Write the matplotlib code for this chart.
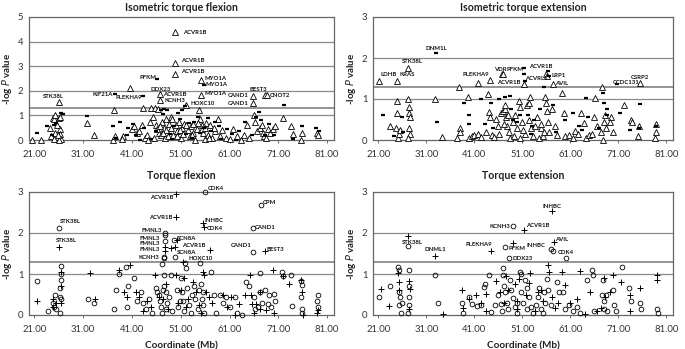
import matplotlib
matplotlib.use("Agg")
import matplotlib.pyplot as plt

plt.rcParams['font.family'] = ['Lato', 'DejaVu Sans']

# ---------------- data ----------------
x_ticks = [21, 31, 41, 51, 61, 71, 81]
x_tick_labels = ["21.00", "31.00", "41.00", "51.00", "61.00", "71.00", "81.00"]
threshold = 1.3

titles = ["Isometric torque flexion", "Isometric torque extension", "Torque flexion", "Torque extension"]

# Isometric torque flexion: triangles and dashes (Mb, -log P)
tl_tri = [(20.6,0.0),(22.4,0.0),(24.2,0.5),(24.5,0.15),(24.9,0.9),(25.0,0.85),(25.2,1.0),(25.1,0.05),(25.3,0.3),
          (26.1,1.56),(26.0,0.9),(26.2,0.95),(26.3,0.45),(26.2,0.25),(26.4,0.05),(26.0,0.0),(25.6,0.6),(25.8,0.2),
          (31.8,0.68),(33.2,0.2),(37.1,0.0),(37.3,1.2),(37.6,0.15),(39.2,0.15),(39.0,0.05),(40.5,2.13),(41.0,0.45),
          (41.5,0.55),(42.0,0.3),(42.5,0.35),(43.0,0.6),(43.2,1.32),(43.6,0.1),(44.0,0.2),(44.3,0.0),(44.6,0.75),
          (44.9,1.32),(45.4,0.95),(45.8,1.3),(46.0,0.6),(46.3,1.27),(46.7,1.86),(46.7,1.63),(46.5,0.3),(47.0,0.2),
          (47.2,0.75),(47.5,0.5),(47.8,0.1),(48.0,0.4),(48.5,0.65),(48.9,0.95),(49.2,0.85),(49.5,0.2),(49.9,4.39),
          (49.9,3.15),(49.9,2.69),(50.0,0.6),(50.3,0.35),(50.6,0.75),(51.0,0.1),(51.3,0.5),(51.7,0.65),(52.1,1.43),
          (52.4,0.4),(52.8,0.15),(53.0,0.55),(53.6,0.3),(54.0,0.0),(54.3,0.45),(54.8,1.2),(55.2,2.45),(55.2,1.83),
          (55.0,0.85),(55.4,0.6),(55.6,0.3),(55.9,0.05),(56.2,0.7),(56.5,0.2),(57.0,0.6),(57.4,0.1),(58.0,0.35),
          (58.6,0.85),(59.0,0.15),(59.5,0.4),(60.3,0.1),(61.0,0.05),(61.8,0.45),(62.5,0.15),(63.4,0.0),(64.0,0.2),
          (64.6,0.6),(65.0,0.1),(65.7,1.78),(65.7,1.49),(66.0,1.03),(66.3,0.75),(66.6,0.35),(67.2,0.5),(67.6,0.6),
          (68.0,0.15),(68.3,1.81),(68.7,1.81),(68.8,0.45),(69.3,0.3),(70.0,0.45),(70.4,0.55),(72.0,0.88),(73.6,0.55),
          (73.9,0.25),(75.8,0.3),(75.6,0.0),(79.0,0.3),(79.1,0.2),(45.5,0.1),(46.2,0.45),(46.8,0.55),(47.4,0.3),
          (48.3,0.15),(49.0,0.5),(50.2,0.15),(50.8,0.4),(51.5,0.25),(52.0,0.6),(53.3,0.2),(54.6,0.7),(55.3,0.45),
          (56.0,0.5),(56.8,0.1),(57.8,0.5),(67.8,0.3),(68.5,0.1),(48.0,0.85),(53.5,0.65)]
tl_dash = [(21.5,0.3),(23.6,0.55),(24.7,0.2),(25.0,0.6),(25.5,0.7),(26.5,1.1),(26.8,1.05),(31.8,0.98),(37.2,0.55),
           (37.8,0.1),(38.5,0.75),(40.0,0.2),(40.2,0.5),(41.2,0.65),(41.8,0.2),(42.6,0.0),(37.5,1.86),(43.3,1.79),
           (46.2,2.47),(43.5,0.5),(45.0,0.05),(46.0,0.35),(46.9,1.2),(47.3,1.05),(47.6,1.27),(48.2,1.2),(48.7,0.25),
           (49.2,0.05),(49.6,0.55),(50.5,1.1),(51.3,1.2),(51.8,1.4),(50.8,0.85),(52.0,0.25),(52.6,0.7),(53.2,0.1),
           (53.8,0.75),(54.5,0.95),(55.0,0.3),(55.7,2.24),(55.8,0.5),(56.5,0.9),(57.2,0.35),(58.0,0.75),(58.8,0.55),
           (59.3,0.05),(60.5,0.45),(61.5,0.25),(62.3,0.0),(63.0,0.35),(64.2,0.75),(65.5,0.2),(66.5,0.95),(67.0,1.15),
           (67.5,0.8),(68.2,0.2),(69.0,0.65),(70.2,0.2),(72.1,1.43),(74.0,0.05),(75.9,0.55),(78.8,0.5),(79.3,0.35)]

# Isometric torque extension
tr_tri = [(21.2,1.44),(24.9,1.44),(27.1,1.75),(23.5,0.35),(24.8,0.95),(24.8,0.65),(24.6,0.3),(25.2,0.05),(25.4,0.15),
          (25.5,0.25),(27.1,1.0),(27.3,0.8),(27.5,0.65),(27.6,0.55),(27.4,0.3),(27.6,0.15),(27.2,0.05),(32.8,1.0),
          (34.3,0.07),(37.9,1.29),(37.5,0.05),(38.0,0.3),(38.1,0.2),(39.6,1.04),(39.8,0.05),(40.5,0.1),(41.0,0.12),
          (41.7,1.39),(41.8,0.15),(42.5,0.08),(43.5,0.2),(43.8,1.12),(44.3,1.47),(44.0,0.68),(44.2,0.57),(44.6,0.12),
          (45.2,0.07),(45.6,0.52),(46.2,0.15),(46.5,0.65),(46.8,1.62),(47.0,1.62),(46.9,0.7),(47.3,0.75),(47.5,0.85),
          (47.7,0.55),(47.9,0.35),(48.2,0.2),(48.5,0.05),(49.0,0.45),(49.3,0.1),(49.8,0.3),(50.3,0.95),(50.5,0.8),
          (50.6,0.05),(51.3,1.37),(51.0,0.45),(51.5,0.15),(52.0,0.85),(52.3,0.9),(52.6,1.05),(52.9,0.3),(53.3,0.1),
          (54.0,0.55),(54.5,0.05),(55.0,0.3),(55.3,0.1),(55.9,1.62),(56.2,1.55),(55.7,1.05),(55.9,0.9),(56.1,0.7),
          (56.4,0.45),(56.6,0.2),(57.4,1.37),(57.2,0.75),(57.8,0.35),(58.3,0.12),(59.3,1.15),(59.6,0.65),(60.0,0.1),
          (60.8,0.12),(61.5,0.05),(62.0,0.22),(62.6,0.15),(63.3,0.65),(63.8,0.42),(64.2,0.05),(64.8,0.12),(65.5,0.15),
          (66.2,1.03),(66.0,0.55),(66.5,0.35),(67.6,1.3),(67.8,0.0),(67.3,0.2),(68.0,0.45),(68.5,0.3),(69.5,0.55),
          (69.2,0.45),(70.0,0.2),(72.1,0.85),(73.6,0.5),(73.8,0.45),(75.2,0.1),(75.4,0.35),(75.6,1.39),(78.8,0.4),
          (78.9,0.2),(78.7,0.05),(47.2,0.4),(48.0,0.6),(51.2,0.25),(52.5,0.5),(54.8,0.4),(55.5,0.2),(68.2,0.6),
          (46.0,0.35),(49.5,0.6),(53.6,0.35)]
tr_dash = [(22.0,0.6),(24.3,0.1),(26.0,0.55),(26.2,0.2),(33.0,2.12),(33.2,0.45),(38.8,0.9),(39.9,0.6),(40.0,0.4),
           (42.5,1.0),(43.2,0.38),(44.5,0.9),(45.0,0.3),(46.2,1.0),(47.4,1.05),(48.4,1.08),(49.0,0.5),(50.6,0.6),
           (51.4,1.75),(51.4,1.62),(51.5,1.45),(52.2,0.6),(53.0,0.35),(53.5,0.5),(54.7,0.75),(55.6,1.3),(56.3,1.68),
           (56.6,1.55),(57.5,0.85),(58.0,0.2),(59.8,0.5),(61.5,0.65),(62.9,0.35),(63.5,0.25),(64.2,1.02),(64.6,0.55),
           (66.9,0.3),(67.9,1.15),(68.1,0.9),(68.6,0.75),(68.7,0.6),(70.8,1.36),(71.4,0.65),(73.5,0.25),(75.6,0.87),
           (75.4,0.3),(78.8,0.35),(48.6,0.75),(50.0,0.45),(52.8,0.15)]

# Torque flexion: circles and plus signs
bl_circ = [(21.6,0.83),(23.8,0.1),(24.9,0.3),(25.0,0.2),(25.3,0.5),(25.4,0.15),(26.0,2.13),(26.5,1.2),(26.4,1.0),
           (26.5,0.85),(26.3,0.65),(26.2,0.45),(26.5,0.4),(26.2,0.05),(32.0,0.4),(33.3,0.3),(37.4,0.15),(37.8,0.6),
           (38.3,1.0),(39.7,1.18),(40.1,0.7),(40.0,0.2),(41.5,0.9),(42.0,0.35),(42.8,0.55),(43.3,0.3),(43.8,0.15),
           (44.5,0.4),(45.2,0.05),(46.0,0.65),(46.2,0.55),(46.6,0.5),(46.8,0.35),(47.0,0.2),(47.2,0.05),(47.5,1.42),
           (47.6,1.38),(47.7,1.81),(47.8,2.0),(47.7,1.95),(47.2,1.25),(47.5,0.98),(47.6,0.7),(47.9,0.55),(48.2,0.3),
           (48.6,0.45),(49.0,0.98),(49.3,0.1),(49.6,1.83),(49.9,1.42),(50.2,0.6),(50.5,0.2),(51.0,0.9),(51.3,0.55),
           (51.5,0.35),(51.8,1.27),(52.0,1.15),(52.3,0.65),(52.7,0.25),(53.0,0.05),(53.7,0.7),(54.0,0.4),(54.5,0.15),
           (55.0,1.26),(55.2,0.75),(55.5,0.55),(55.6,0.25),(55.8,0.05),(56.0,3.0),(57.2,1.05),(57.8,0.5),(58.2,0.05),
           (59.0,0.5),(59.7,0.3),(60.3,0.45),(61.0,0.2),(62.2,0.45),(62.6,0.05),(63.5,0.0),(64.3,0.8),(65.0,0.7),
           (65.7,1.53),(65.7,2.12),(66.0,0.45),(66.2,0.15),(67.2,1.02),(67.3,0.55),(67.6,0.3),(68.2,0.62),(68.8,0.28),
           (69.0,0.5),(69.5,0.2),(70.2,0.52),(70.4,0.35),(71.8,1.05),(71.9,0.95),(73.5,0.98),(73.8,0.22),(75.7,0.82),
           (75.8,0.72),(75.7,0.45),(75.8,0.15),(75.9,0.05),(79.1,0.48),(79.0,0.35),(79.2,0.2),(67.5,2.69),
           (48.0,0.15),(50.8,0.35),(53.3,0.5),(55.3,0.4),(51.7,0.1),(54.8,0.6),(66.9,0.2),(47.3,0.6)]
bl_plus = [(21.5,0.35),(24.8,0.2),(24.9,0.4),(25.5,0.3),(26.0,1.65),(26.5,1.05),(26.4,0.7),(26.5,0.3),(32.3,1.02),
           (33.4,0.38),(38.3,1.1),(39.3,0.55),(40.0,0.45),(40.5,1.23),(41.8,0.55),(42.5,0.45),(43.3,0.1),(44.0,0.35),
           (44.8,0.2),(45.8,0.98),(46.5,0.45),(47.3,0.4),(47.8,1.65),(47.8,1.57),(48.0,0.75),(48.3,0.15),(48.9,1.63),
           (49.9,1.65),(50.0,2.95),(50.0,2.39),(50.3,1.82),(50.1,0.98),(50.4,0.3),(51.4,1.3),(51.0,0.6),(51.6,0.9),
           (52.0,0.2),(52.5,0.4),(53.6,0.8),(54.2,0.55),(54.8,0.25),(55.1,0.05),(55.5,2.24),(55.8,2.14),(55.5,1.05),
           (55.8,0.98),(56.2,0.55),(56.8,0.45),(57.0,1.59),(57.3,0.3),(59.6,0.48),(60.4,0.2),(61.3,0.43),(62.1,0.0),
           (63.0,0.28),(64.2,0.5),(65.2,0.98),(65.3,0.5),(65.5,0.28),(66.4,0.28),(66.0,0.05),(67.2,0.55),(67.3,0.15),
           (68.2,1.57),(68.5,0.12),(70.0,1.1),(70.2,0.05),(72.0,0.95),(73.2,0.75),(75.7,0.85),(75.8,0.55),(76.0,0.0),
           (79.2,0.12),(79.0,0.05)]

# Torque extension
br_circ = [(21.2,0.45),(23.4,0.7),(25.2,1.16),(25.3,1.1),(25.3,0.55),(25.5,0.45),(25.4,0.25),(25.8,0.05),(25.9,0.3),
           (27.1,1.69),(27.3,1.1),(27.5,0.7),(27.5,0.45),(27.4,0.25),(27.2,0.05),(32.9,0.97),(33.5,0.3),(38.5,0.3),
           (38.7,0.05),(40.0,0.45),(40.6,0.28),(41.6,0.22),(42.3,0.25),(43.0,0.68),(43.3,0.75),(44.0,0.98),(44.5,0.08),
           (45.4,0.25),(46.0,0.5),(46.5,0.27),(46.9,1.14),(47.0,0.98),(47.3,1.66),(47.2,0.7),(47.5,0.55),(47.8,0.3),
           (48.0,0.15),(48.3,1.39),(48.4,0.85),(48.6,0.6),(49.0,2.16),(49.1,0.42),(49.5,0.2),(50.0,0.05),(50.6,1.06),
           (50.7,1.0),(50.8,0.55),(51.2,0.3),(51.6,0.85),(52.0,0.65),(52.4,0.45),(52.8,0.2),(53.2,0.05),(54.2,0.45),
           (54.5,0.65),(55.0,0.15),(55.4,0.05),(55.8,0.3),(56.2,0.88),(56.3,0.6),(57.0,1.6),(57.3,1.55),(57.0,0.25),
           (58.3,0.8),(58.6,0.55),(59.5,0.55),(60.1,1.39),(59.8,0.15),(60.8,0.25),(61.6,0.1),(62.5,0.2),(63.0,0.05),
           (64.5,0.85),(65.5,1.1),(65.7,0.97),(66.0,0.1),(67.6,0.5),(67.9,0.85),(68.1,0.35),(68.4,0.5),(68.6,0.1),
           (70.0,0.6),(70.2,0.25),(70.5,0.1),(71.8,1.17),(73.3,0.65),(73.6,0.35),(75.5,0.3),(75.8,0.15),(79.0,0.15),
           (79.2,0.05),(46.8,0.1),(49.8,0.3),(51.9,0.15),(53.8,0.25),(55.6,0.55),(68.0,0.15)]
br_plus = [(21.6,0.63),(23.3,0.22),(25.3,0.8),(25.4,0.6),(25.2,1.02),(27.1,1.92),(27.3,0.83),(27.6,0.63),(27.3,0.15),
           (32.9,1.43),(34.4,0.03),(38.5,0.62),(38.7,0.18),(40.0,0.4),(41.3,0.48),(42.5,0.3),(43.5,0.52),(43.4,0.1),
           (44.4,1.57),(45.6,0.82),(46.4,0.55),(47.2,0.3),(47.6,0.95),(48.0,0.62),(49.0,1.75),(49.5,0.75),(49.9,0.35),
           (50.3,0.88),(50.0,0.15),(51.4,2.08),(51.8,0.5),(52.3,0.78),(52.7,1.02),(53.6,0.1),(54.3,0.55),(55.0,0.62),
           (55.4,0.35),(56.4,1.21),(56.5,1.05),(57.1,2.53),(57.6,1.79),(57.2,0.45),(57.8,0.18),(58.5,0.3),(59.3,1.05),
           (59.8,0.72),(61.0,0.3),(62.4,0.38),(63.1,1.07),(64.0,0.02),(65.2,0.57),(66.5,0.1),(67.5,0.18),(68.0,0.9),
           (68.3,0.45),(69.2,0.55),(70.0,0.97),(71.5,0.8),(73.4,0.5),(73.5,0.1),(75.5,0.67),(79.0,0.97),(79.1,0.86)]

# gene labels: (gene, x, y, ha)
tl_labels = [("ACVR1B",51.5,4.39,"left"),("ACVR1B",51.0,3.23,"left"),("ACVR1B",51.0,2.79,"left"),
             ("PFKM",46.0,2.55,"right"),("MYO1A",55.8,2.50,"left"),("MYO1A",56.0,2.27,"left"),
             ("MYO1A",55.8,1.90,"left"),("DDX23",46.9,2.07,"center"),("ACVR1B",47.4,1.83,"left"),
             ("KCNH3",47.6,1.60,"left"),("HOXC10",52.9,1.47,"left"),("STK38L",24.9,1.77,"center"),
             ("KIF21A",37.0,1.83,"right"),("PLEKHA9",43.0,1.72,"right"),("CAND1",64.8,1.79,"right"),
             ("CAND1",64.8,1.49,"right"),("BEST3",66.8,2.07,"center"),("CNOT2",69.2,1.79,"left")]
tr_labels = [("DNM1L",33.0,2.22,"center"),("STK38L",28.0,1.92,"center"),("LDHB",23.2,1.59,"center"),
             ("KRAS",27.1,1.59,"center"),("PLEKHA9",41.4,1.59,"center"),("VDR",46.5,1.72,"center"),
             ("PFKM",47.8,1.72,"left"),("ACVR1B",52.5,1.79,"left"),("ACVRL1",51.6,1.51,"left"),
             ("ACVR1B",50.7,1.41,"right"),("LRP1",57.0,1.58,"left"),("AVIL",57.8,1.37,"left"),
             ("CCDC131",69.9,1.41,"left"),("CSRP2",75.6,1.53,"center")]
bl_labels = [("CDK4",56.5,3.08,"left"),("ACVR1B",49.5,2.87,"right"),("CPM",67.8,2.75,"left"),
             ("ACVR1B",49.3,2.39,"right"),("INHBC",55.9,2.31,"left"),("CDK4",56.3,2.10,"left"),
             ("CAND1",66.1,2.13,"left"),("STK38L",26.3,2.27,"left"),("STK38L",25.5,1.81,"left"),
             ("FMNL3",47.1,2.05,"right"),("FMNL3",46.8,1.87,"right"),("FMNL3",46.8,1.74,"right"),
             ("FMNL3",46.8,1.59,"right"),("KCNH3",46.5,1.41,"right"),("SCN8A",50.3,1.86,"left"),
             ("ACVR1B",51.2,1.69,"left"),("SCN8A",50.3,1.52,"left"),("HOXC10",52.6,1.38,"left"),
             ("CAND1",65.4,1.69,"right"),("BEST3",68.5,1.59,"left")]
br_labels = [("INHBC",57.1,2.65,"center"),("KCNH3",48.5,2.17,"right"),("ACVR1B",51.8,2.18,"left"),
             ("STK38L",28.2,1.77,"center"),("DNML1",32.9,1.59,"center"),("PLEKHA9",41.9,1.71,"center"),
             ("PFKM",48.1,1.63,"left"),("INHBC",53.9,1.69,"center"),("AVIL",57.8,1.83,"left"),
             ("CDK4",58.3,1.52,"left"),("DDX23",48.9,1.39,"left")]

# ---------------- figure ----------------
fig = plt.figure(figsize=(6.85, 3.49), dpi=100)
W, H = 685, 349

def make_ax(left, top, right, bottom):
    return fig.add_axes([left / W, 1 - bottom / H, (right - left) / W, (bottom - top) / H])

ax_tl = make_ax(29, 17, 334, 140)
ax_tr = make_ax(373, 17, 673, 140)
ax_bl = make_ax(29, 192, 334, 315)
ax_br = make_ax(373, 192, 673, 315)

gray = "#8a8a8a"

def style(ax, ymax, title, xlabel, title_pad):
    ax.set_xlim(19.9, 82.4)
    ax.set_ylim(0, ymax)
    for yv in range(1, ymax):
        ax.axhline(yv, color=gray, lw=0.9, zorder=1)
    ax.axhline(threshold, color="#777777", lw=1.1, zorder=1)
    ax.set_xticks(x_ticks)
    ax.set_xticklabels(x_tick_labels, fontsize=6.8, color="#333333")
    ax.set_yticks(range(0, ymax + 1))
    ax.set_yticklabels([str(v) for v in range(0, ymax + 1)], fontsize=6.8, color="#333333")
    ax.tick_params(axis="x", length=2.5, width=0.6, color="#555555", pad=5)
    ax.tick_params(axis="y", length=0, pad=4)
    for s in ax.spines.values():
        s.set_color("#666666")
        s.set_linewidth(0.9)
    ax.set_title(title, fontsize=7.6, fontweight="bold", color="#222222", pad=title_pad)
    ax.set_ylabel("-log $\\it{P}$ value", fontsize=7, fontweight="bold", color="#222222", labelpad=3)
    if xlabel:
        ax.set_xlabel(xlabel, fontsize=7.2, fontweight="bold", color="#222222", labelpad=5)

def scatter_pts(ax, pts, marker, **kw):
    xs = [p[0] for p in pts]
    ys = [p[1] for p in pts]
    ax.plot(xs, ys, linestyle="none", marker=marker, zorder=3, clip_on=False, **kw)

def add_labels(ax, labels):
    for g, x, y, ha in labels:
        ax.text(x, y, g, fontsize=4.3, fontweight="bold", ha=ha, va="center", color="#111111", zorder=4)

style(ax_tl, 5, titles[0], None, 4)
style(ax_tr, 3, titles[1], None, 4)
style(ax_bl, 3, titles[2], "Coordinate (Mb)", 9)
style(ax_br, 3, titles[3], "Coordinate (Mb)", 9)

tri_kw = dict(markersize=4.2, markerfacecolor="white", markeredgecolor="black", markeredgewidth=0.6)
dash_kw = dict(markersize=2.8, color="black", markeredgewidth=1.6)
circ_kw = dict(markersize=3.4, markerfacecolor="none", markeredgecolor="black", markeredgewidth=0.6)
plus_kw = dict(markersize=4.0, color="black", markeredgewidth=0.7)

scatter_pts(ax_tl, tl_tri, "^", **tri_kw)
scatter_pts(ax_tl, tl_dash, "_", **dash_kw)
scatter_pts(ax_tr, tr_tri, "^", **tri_kw)
scatter_pts(ax_tr, tr_dash, "_", **dash_kw)
scatter_pts(ax_bl, bl_circ, "o", **circ_kw)
scatter_pts(ax_bl, bl_plus, "+", **plus_kw)
scatter_pts(ax_br, br_circ, "o", **circ_kw)
scatter_pts(ax_br, br_plus, "+", **plus_kw)

add_labels(ax_tl, tl_labels)
add_labels(ax_tr, tr_labels)
add_labels(ax_bl, bl_labels)
add_labels(ax_br, br_labels)

fig.savefig("out.png", dpi=100)
